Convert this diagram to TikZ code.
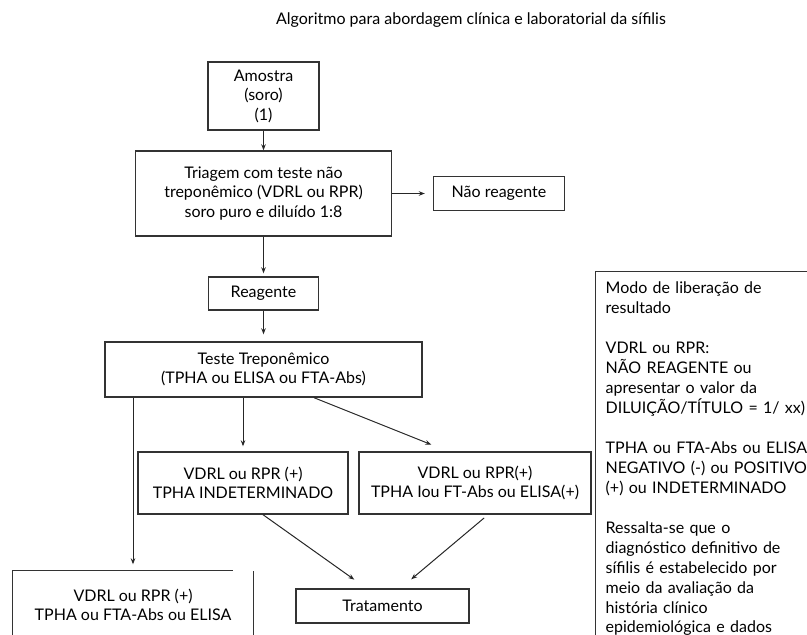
\documentclass[tikz,border=0pt]{standalone}
\usepackage{fontspec}
\setmainfont{Lato}
\usetikzlibrary{arrows.meta}

\tikzstyle{s} = [rectangle, draw=black!80, line width=1.4pt, align=center, inner sep=2pt]
\tikzstyle{nota} = [rectangle, draw=black!80, line width=1.4pt, align=left, text width=270pt, inner sep=10pt]

\begin{document}
\begin{tikzpicture}[->,>={Stealth[length=6pt,width=4.5pt]},line width=1pt,draw=black!85,x=1pt,y=1pt,node distance=100pt,font=\fontsize{16}{19.5}\selectfont]
\useasboundingbox (0,0) rectangle (807,-635);

\node (Titulo) at (471,-20) {Algoritmo para abordagem clínica e laboratorial da sífilis};

\node[s, minimum width=111pt, minimum height=68pt] (Amostra) at (263.5,-96) {Amostra\\(soro)\\(1)};
\node[s, minimum width=256pt, minimum height=85pt] (Triagem) [below of=Amostra, yshift=2.5pt]
{Triagem com teste não\\treponêmico (VDRL ou RPR)\\soro puro e diluído 1:8};
\node[s, minimum width=131pt, minimum height=34pt] (NaoReag) [right of=Triagem, xshift=135.5pt] {Não reagente};
\node[s, minimum width=110pt, minimum height=33pt] (Reagente) [below of=Triagem] {Reagente};

\node[s, minimum width=317pt, minimum height=55pt] (Teste) [below of=Reagente, yshift=24pt]
{Teste Treponêmico\\(TPHA ou ELISA ou FTA-Abs)};
\node[s, minimum width=210pt, minimum height=62pt] (Indet) [below of=Teste, xshift=-20.5pt, yshift=-13.5pt]
{VDRL ou RPR (+)\\TPHA INDETERMINADO};
\node[s, minimum width=232pt, minimum height=62pt] (Positivo) [right of=Indet, xshift=132pt]
{VDRL ou RPR(+)\\TPHA Iou FT-Abs ou ELISA(+)};

\node[s, minimum width=173pt, minimum height=34pt] (Tratamento) [below of=Indet, xshift=139.5pt, yshift=-23pt] {Tratamento};
\node[s, draw=none, minimum width=240pt, minimum height=68pt] (Reagentes) [below of=Indet, xshift=-110pt, yshift=-22pt]
{VDRL ou RPR (+)\\TPHA ou FTA-Abs ou ELISA};
\draw[-, line width=1.4pt, black!80] (Reagentes.south west) -- (Reagentes.north west) -- ([xshift=221pt]Reagentes.north west);
\draw[-, line width=1.4pt, black!80] ([yshift=-1pt]Reagentes.north east) -- (Reagentes.south east);

\node[nota, anchor=north west] (Modo) at (595,-271) {\fontsize{16}{20}\selectfont
Modo de liberação de\\resultado\\[20pt]
VDRL ou RPR:\\NÃO REAGENTE ou\\apresentar o valor da\\DILUIÇÃO/TÍTULO = 1/ xx)\\[20pt]
TPHA ou FTA-Abs ou ELISA\\NEGATIVO (-) ou POSITIVO\\(+) ou INDETERMINADO\\[20pt]
Ressalta-se que o\\diagnóstico definitivo de\\sífilis é estabelecido por\\meio da avaliação da\\história clínico\\epidemiológica e dados};

\path
  (Amostra) edge (Triagem)
  (Triagem) edge[shorten >=8pt] (NaoReag)
  (Triagem) edge[shorten >=3pt] (Reagente)
  (Reagente) edge[shorten >=7pt] (Teste)
  (Teste.south -| Indet.north) edge[shorten >=5pt] (Indet.north)
  ([xshift=50.5pt]Teste.south) edge[shorten >=18pt] ([xshift=-27pt]Positivo.north)
  (Teste.south -| Reagentes.north) edge[shorten >=6pt] (Reagentes.north)
  ([xshift=20pt]Indet.south) edge[shorten >=15pt] ([xshift=-16pt]Tratamento.north)
  ([xshift=13pt]Positivo.south) edge[shorten <=5pt, shorten >=14pt] ([xshift=18pt]Tratamento.north)
  ;

\end{tikzpicture}
\end{document}
